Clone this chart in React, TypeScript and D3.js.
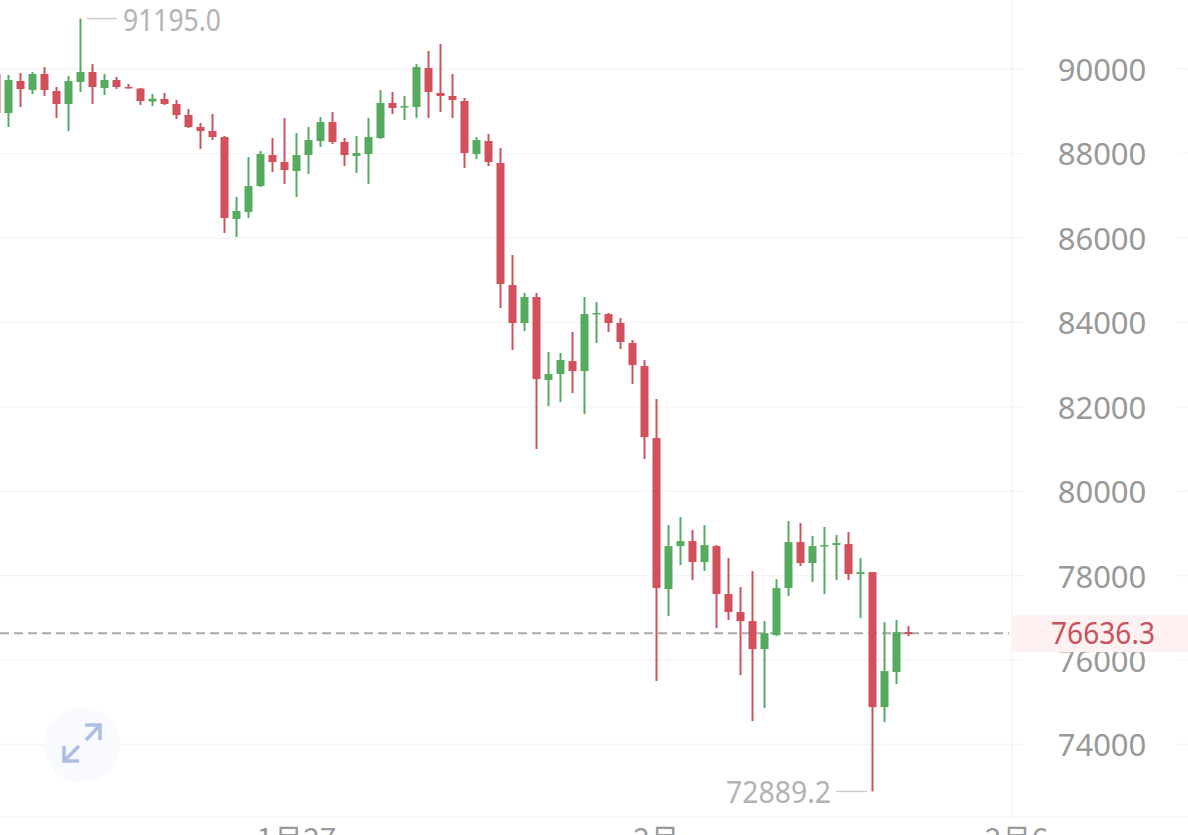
import React, { useEffect, useRef } from "react";
import * as d3 from "d3";

// left to right (first candle is cut by the left edge)
const opens = [89882, 88958, 89716, 89503, 89882, 89479, 89171, 89692, 89929, 89550, 89739, 89574, 89538, 89230, 89289, 89171, 88910, 88626, 88531, 88389, 86447, 86612, 87228, 87963, 87797, 87584, 87963, 88294, 88744, 88271, 87939, 87986, 88365, 89195, 89100, 89100, 90024, 89431, 89360, 89242, 87986, 88294, 87773, 84883, 83983, 84599, 82632, 82775, 83082, 82846, 84196, 84196, 83983, 83509, 82964, 81258, 77681, 78700, 78818, 78321, 78700, 77563, 77136, 76923, 76260, 76591, 77705, 78795, 78297, 78700, 78724, 78747, 78037, 78084, 74885, 75715, 76662];
const closes = [88958, 89739, 89526, 89882, 89503, 89171, 89716, 89929, 89574, 89739, 89574, 89550, 89242, 89296, 89171, 88910, 88626, 88531, 88389, 86470, 86636, 87228, 87986, 87797, 87607, 87963, 88318, 88744, 88271, 87963, 88010, 88389, 89195, 89076, 89123, 90047, 89455, 89360, 89266, 88010, 88318, 87797, 84907, 83983, 84599, 82656, 82775, 83106, 82846, 84196, 84220, 83983, 83533, 82988, 81282, 77705, 78700, 78818, 78321, 78724, 77563, 77136, 76923, 76260, 76636, 77705, 78795, 78297, 78700, 78724, 78771, 78037, 78084, 74885, 75739, 76662, 76615];
const highs = [89929, 89858, 89905, 89929, 90047, 89574, 89834, 91195, 90118, 89882, 89810, 89645, 89550, 89408, 89431, 89266, 89052, 88721, 88934, 88413, 86968, 87915, 88057, 88365, 88839, 88484, 88626, 88863, 88981, 88365, 88413, 88839, 89503, 89455, 89360, 90118, 90426, 90592, 89882, 89313, 88389, 88460, 88128, 85594, 84694, 84694, 83296, 83272, 83770, 84599, 84480, 84220, 84101, 83580, 83106, 82182, 79197, 79387, 79079, 79197, 78724, 78416, 77728, 78108, 76923, 77918, 79292, 79245, 78937, 79150, 78960, 79031, 78416, 78084, 76899, 76947, 76805];
const lows = [88934, 88626, 89100, 89408, 89360, 88839, 88531, 89455, 89171, 89384, 89526, 89538, 89147, 89123, 89147, 88816, 88602, 88105, 88318, 86115, 86020, 86470, 87205, 87560, 87276, 86968, 87513, 88152, 88223, 87702, 87536, 87276, 88342, 88934, 88792, 88839, 88839, 88981, 88839, 87655, 87868, 87702, 84338, 83343, 83793, 80998, 82016, 82111, 82324, 81827, 83509, 83770, 83367, 82538, 80761, 75502, 77041, 78250, 77894, 78108, 76757, 76947, 75644, 74554, 74862, 76567, 77515, 78226, 77847, 77563, 77894, 77894, 76994, 72889, 74530, 75431, 76567];

const priceTicks = [90000, 88000, 86000, 84000, 82000, 80000, 78000, 76000, 74000];
const dateLabels = ["1月27", "2月", "2月6"];
const dateIndexes = [25, 55, 85];
const lastPrice = 76636.3;
const maxPrice = 91195.0;
const minPrice = 72889.2;

const RED = "#d24f5c";
const GREEN = "#57ab60";
const FONT = "'Noto Sans', sans-serif";

export default function App() {
  const ref = useRef<SVGSVGElement>(null);

  useEffect(() => {
    const width = 1188;
    const height = 835;
    const svg = d3.select(ref.current).attr("width", width).attr("height", height);
    svg.selectAll("*").remove();

    const x = d3.scaleLinear().domain([0, 76]).range([-3.5, 908.5]);
    const y = d3.scaleLinear().domain([74000, 90000]).range([744.5, 69]);
    const plotRight = 1012;
    const plotBottom = 817;

    // grid
    const grid = svg.append("g").attr("stroke", "#f5f5f6").attr("stroke-width", 1.5);
    grid
      .selectAll("line.left")
      .data(priceTicks)
      .join("line")
      .attr("x1", 0)
      .attr("x2", plotRight + 12)
      .attr("y1", (d) => y(d))
      .attr("y2", (d) => y(d));
    grid
      .selectAll("line.right")
      .data(priceTicks)
      .join("line")
      .attr("x1", 1178)
      .attr("x2", width)
      .attr("y1", (d) => y(d))
      .attr("y2", (d) => y(d));
    grid.append("line").attr("x1", plotRight).attr("x2", plotRight).attr("y1", 0).attr("y2", plotBottom);
    grid.append("line").attr("x1", 0).attr("x2", width).attr("y1", plotBottom).attr("y2", plotBottom);

    // price axis
    const yAxis = svg
      .append("g")
      .attr("transform", "translate(1102,1.5)")
      .call(d3.axisRight(y).tickValues(priceTicks).tickSize(0).tickPadding(0).tickFormat(d3.format("d")));
    yAxis.select(".domain").remove();
    yAxis
      .selectAll("text")
      .attr("text-anchor", "middle")
      .attr("fill", "#999999")
      .attr("font-family", FONT)
      .attr("font-size", 31);

    // date labels, cut by the bottom edge
    svg
      .append("g")
      .selectAll("text")
      .data(dateLabels)
      .join("text")
      .attr("x", (_, i) => x(dateIndexes[i]))
      .attr("y", 850)
      .attr("text-anchor", "middle")
      .attr("fill", "#999999")
      .attr("font-family", "'Noto Sans CJK SC', sans-serif")
      .attr("font-size", 30)
      .text((d) => d);

    // expand button
    const icon = svg.append("g");
    icon.append("circle").attr("cx", 82).attr("cy", 745).attr("r", 38).attr("fill", "#f9fafd");
    icon
      .append("path")
      .attr("d", "M86 740L100 725M85 725H100V740M79 746L64 761M64 746V761H79")
      .attr("fill", "none")
      .attr("stroke", "#aebde6")
      .attr("stroke-width", 3.5);

    // last price line
    svg
      .append("line")
      .attr("x1", 0)
      .attr("x2", plotRight - 3)
      .attr("y1", y(lastPrice))
      .attr("y2", y(lastPrice))
      .attr("stroke", "#aaaaaa")
      .attr("stroke-width", 2)
      .attr("stroke-dasharray", "9 5");

    // candles
    const candles = svg
      .append("g")
      .selectAll("g")
      .data(opens.map((o, i) => ({ i, o, c: closes[i], h: highs[i], l: lows[i] })))
      .join("g")
      .attr("fill", (d) => (d.c >= d.o ? GREEN : RED))
      .attr("stroke", (d) => (d.c >= d.o ? GREEN : RED));
    candles
      .append("line")
      .attr("x1", (d) => x(d.i))
      .attr("x2", (d) => x(d.i))
      .attr("y1", (d) => y(d.h))
      .attr("y2", (d) => y(d.l))
      .attr("stroke-width", 2);
    candles
      .append("rect")
      .attr("x", (d) => x(d.i) - 4)
      .attr("width", 8)
      .attr("y", (d) => y(Math.max(d.o, d.c)))
      .attr("height", (d) => Math.max(1.5, Math.abs(y(d.o) - y(d.c))))
      .attr("stroke", "none");

    // high / low marks
    const mark = svg.append("g").attr("font-family", FONT).attr("font-size", 30).attr("fill", "#b3b3b3");
    mark
      .append("line")
      .attr("x1", 87)
      .attr("x2", 117)
      .attr("y1", y(maxPrice))
      .attr("y2", y(maxPrice))
      .attr("stroke", "#cccccc")
      .attr("stroke-width", 1.5);
    mark
      .append("text")
      .attr("x", 123)
      .attr("y", y(maxPrice) + 12)
      .attr("textLength", 98)
      .attr("lengthAdjust", "spacingAndGlyphs")
      .text(d3.format(".1f")(maxPrice));
    mark
      .append("line")
      .attr("x1", 836)
      .attr("x2", 867)
      .attr("y1", y(minPrice))
      .attr("y2", y(minPrice))
      .attr("stroke", "#cccccc")
      .attr("stroke-width", 1.5);
    mark
      .append("text")
      .attr("x", 726)
      .attr("y", y(minPrice) + 12)
      .attr("textLength", 105)
      .attr("lengthAdjust", "spacingAndGlyphs")
      .text(d3.format(".1f")(minPrice));

    // last price tag
    svg
      .append("rect")
      .attr("x", plotRight + 1)
      .attr("y", y(lastPrice) - 18)
      .attr("width", width - plotRight)
      .attr("height", 37)
      .attr("fill", "#fdf2f1");
    svg
      .append("text")
      .attr("x", 1051)
      .attr("y", y(lastPrice) + 11)
      .attr("textLength", 104)
      .attr("lengthAdjust", "spacingAndGlyphs")
      .attr("font-family", FONT)
      .attr("font-size", 30)
      .attr("fill", "#c9505f")
      .text(d3.format(".1f")(lastPrice));
  }, []);

  return <svg ref={ref} style={{ position: "absolute", left: 0, top: 0, display: "block", background: "#fff" }} />;
}
